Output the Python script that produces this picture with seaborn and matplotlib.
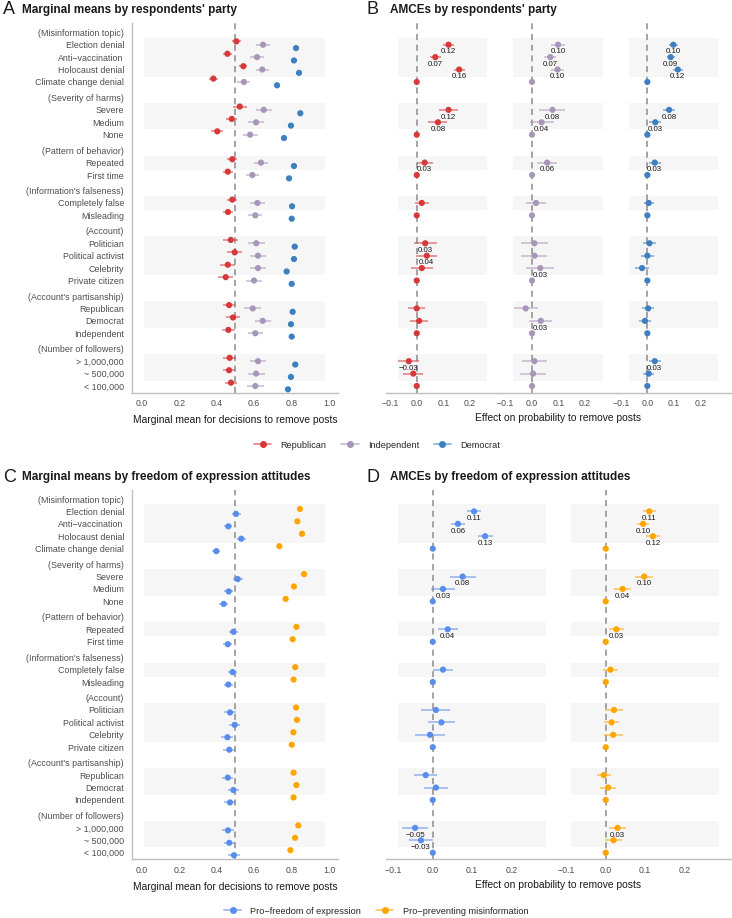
import matplotlib
matplotlib.use("Agg")
import matplotlib.pyplot as plt
from matplotlib.lines import Line2D
from matplotlib.colors import to_rgba
import pandas as pd
import seaborn as sns

sns.set_theme(style="white")
plt.rcParams['font.family'] = ['Liberation Sans', 'DejaVu Sans']

headers = ["(Misinformation topic)", "(Severity of harms)", "(Pattern of behavior)",
           "(Information's falseness)", "(Account)", "(Account's partisanship)",
           "(Number of followers)"]
levels = ["Election denial", "Anti\u2212vaccination", "Holocaust denial", "Climate change denial",
          "Severe", "Medium", "None",
          "Repeated", "First time",
          "Completely false", "Misleading",
          "Politician", "Political activist", "Celebrity", "Private citizen",
          "Republican", "Democrat", "Independent",
          "> 1,000,000", "~ 500,000", "< 100,000"]
group_sizes = [4, 3, 2, 2, 4, 3, 3]

# marginal means by party
mm_rep = [0.505, 0.457, 0.542, 0.382, 0.523, 0.48, 0.403, 0.483, 0.459, 0.483, 0.46,
          0.475, 0.496, 0.459, 0.448, 0.466, 0.487, 0.462, 0.469, 0.466, 0.476]
mm_rep_ci = [0.025, 0.022, 0.022, 0.024, 0.036, 0.03, 0.033, 0.027, 0.027, 0.027, 0.027,
             0.04, 0.04, 0.04, 0.04, 0.034, 0.035, 0.034, 0.033, 0.034, 0.033]
mm_ind = [0.647, 0.615, 0.643, 0.545, 0.651, 0.61, 0.578, 0.636, 0.59, 0.617, 0.606,
          0.611, 0.62, 0.62, 0.599, 0.592, 0.645, 0.606, 0.62, 0.61, 0.606]
mm_ind_ci = [0.035, 0.035, 0.035, 0.035, 0.044, 0.044, 0.04, 0.039, 0.036, 0.038, 0.038,
             0.045, 0.045, 0.045, 0.045, 0.044, 0.042, 0.04, 0.045, 0.045, 0.045]
mm_dem = [0.823, 0.812, 0.839, 0.722, 0.846, 0.796, 0.759, 0.812, 0.786, 0.802, 0.8,
          0.816, 0.812, 0.773, 0.8, 0.805, 0.796, 0.8, 0.819, 0.796, 0.78]
mm_dem_ci = [0.015] * 21

# AMCEs by party
am_rep = [0.12, 0.07, 0.16, 0, 0.12, 0.08, 0, 0.03, 0, 0.019, 0,
          0.032, 0.038, 0.019, 0, 0.0, 0.009, 0, -0.03, -0.013, 0]
am_rep_ci = [0.02, 0.02, 0.021, 0, 0.036, 0.036, 0, 0.03, 0, 0.027, 0,
             0.043, 0.04, 0.041, 0, 0.033, 0.035, 0, 0.039, 0.038, 0]
am_ind = [0.098, 0.069, 0.096, 0, 0.077, 0.036, 0, 0.057, 0, 0.015, 0,
          0.009, 0.009, 0.031, 0, -0.024, 0.033, 0, 0.009, 0.004, 0]
am_ind_ci = [0.028, 0.023, 0.026, 0, 0.049, 0.045, 0, 0.039, 0, 0.036, 0,
             0.051, 0.049, 0.052, 0, 0.045, 0.044, 0, 0.048, 0.049, 0]
am_dem = [0.098, 0.088, 0.115, 0, 0.082, 0.03, 0, 0.028, 0, 0.005, 0,
          0.008, 0.0, -0.02, 0, 0.003, -0.009, 0, 0.028, 0.005, 0]
am_dem_ci = [0.016, 0.015, 0.02, 0, 0.023, 0.023, 0, 0.023, 0, 0.019, 0,
             0.025, 0.025, 0.026, 0, 0.023, 0.021, 0, 0.023, 0.021, 0]
lab_rep = ["0.12", "0.07", "0.16", "", "0.12", "0.08", "", "0.03", "", "", "",
           "0.03", "0.04", "", "", "", "", "", "\u22120.03", "", ""]
lab_ind = ["0.10", "0.07", "0.10", "", "0.08", "0.04", "", "0.06", "", "", "",
           "", "", "0.03", "", "", "0.03", "", "", "", ""]
lab_dem = ["0.10", "0.09", "0.12", "", "0.08", "0.03", "", "0.03", "", "", "",
           "", "", "", "", "", "", "", "0.03", "", ""]

# marginal means by freedom of expression attitudes
mm_free = [0.503, 0.462, 0.531, 0.398, 0.512, 0.464, 0.437, 0.489, 0.459, 0.485, 0.462,
           0.471, 0.496, 0.457, 0.467, 0.459, 0.489, 0.471, 0.46, 0.467, 0.492]
mm_free_ci = [0.024, 0.022, 0.024, 0.022, 0.027, 0.025, 0.024, 0.025, 0.024, 0.025, 0.024,
              0.032, 0.03, 0.032, 0.031, 0.03, 0.028, 0.03, 0.03, 0.03, 0.03]
mm_prev = [0.844, 0.83, 0.855, 0.734, 0.866, 0.812, 0.768, 0.825, 0.805, 0.819, 0.81,
           0.823, 0.828, 0.809, 0.8, 0.81, 0.825, 0.81, 0.835, 0.818, 0.793]
mm_prev_ci = [0.012] * 21

# AMCEs by freedom of expression attitudes
am_free = [0.105, 0.064, 0.133, 0, 0.076, 0.026, 0, 0.038, 0, 0.026, 0,
           0.008, 0.022, -0.007, 0, -0.018, 0.008, 0, -0.045, -0.03, 0]
am_free_ci = [0.017, 0.017, 0.019, 0, 0.033, 0.031, 0, 0.025, 0, 0.026, 0,
              0.037, 0.034, 0.037, 0, 0.03, 0.03, 0, 0.033, 0.031, 0]
am_prev = [0.111, 0.095, 0.12, 0, 0.098, 0.043, 0, 0.027, 0, 0.012, 0,
           0.021, 0.015, 0.019, 0, -0.005, 0.006, 0, 0.03, 0.02, 0]
am_prev_ci = [0.017, 0.015, 0.017, 0, 0.023, 0.022, 0, 0.019, 0, 0.018, 0,
              0.023, 0.02, 0.024, 0, 0.018, 0.02, 0, 0.021, 0.022, 0]
lab_free = ["0.11", "0.06", "0.13", "", "0.08", "0.03", "", "0.04", "", "", "",
            "", "", "", "", "", "", "", "\u22120.05", "\u22120.03", ""]
lab_prev = ["0.11", "0.10", "0.12", "", "0.10", "0.04", "", "0.03", "", "", "",
            "", "", "", "", "", "", "", "0.03", "", ""]

c_rep, c_ind, c_dem = "#D7393B", "#A896B8", "#3D7FBF"
c_free, c_prev = "#5A8DEB", "#FFA500"
grey_txt = "#4D4D4D"
spine_c = "#BEBEBE"
band_c = "#F6F6F6"

# row layout: header, its levels, then a slightly larger gap before the next header
head_y, lev_y, bands = [], [], []
pos = 0.0
for gi, n in enumerate(group_sizes):
    if gi > 0:
        pos += 1.25
    head_y.append(pos)
    for k in range(n):
        pos += 1
        lev_y.append(pos)
    bands.append((lev_y[-n] - 0.57, lev_y[-2] + 0.57))
ylim = (lev_y[-1] + 0.54, -0.75)

W, H = 732, 918
fig = plt.figure(figsize=(W / 100, H / 100), dpi=100)


def box(x0, x1, y0, y1):
    return [x0 / W, 1 - y1 / H, (x1 - x0) / W, (y1 - y0) / H]


def style_ax(ax, xlim, ticks, ticklabels, band_x):
    ax.set_xlim(*xlim)
    ax.set_ylim(*ylim)
    ax.set_facecolor("none")
    x0, x1 = band_x
    for b0, b1 in bands:
        ax.fill_between([x0, x1], b0, b1, color=band_c, lw=0, zorder=0)
    ax.set_xticks(ticks)
    ax.set_xticklabels(ticklabels)
    ax.tick_params(axis="x", length=0, pad=4.5, labelsize=6.3, labelcolor=grey_txt)
    ax.tick_params(axis="y", length=0)
    for s in ["top", "right"]:
        ax.spines[s].set_visible(False)
    ax.spines["bottom"].set_color(spine_c)
    ax.spines["bottom"].set_linewidth(1.0)
    ax.grid(False)


def draw(ax, x, ci, offset, color, labels=None):
    df = pd.DataFrame({"x": x, "ci": ci, "y": [v + offset for v in lev_y]})
    ax.hlines(df["y"], df["x"] - df["ci"], df["x"] + df["ci"], color=color,
              alpha=0.55, lw=1.3, zorder=3)
    sns.scatterplot(data=df, x="x", y="y", color=color, s=20, edgecolor="none",
                    ax=ax, zorder=4, legend=False)
    if labels is not None:
        for xv, yv, t in zip(df["x"], df["y"], labels):
            if t:
                ax.text(xv, yv + 0.58, t, ha="center", va="center", fontsize=5.7,
                        color="#1A1A1A", zorder=5)
    ax.set_xlabel("")
    ax.set_ylabel("")


def mm_panel(y0, y1, series, xlabel):
    ax = fig.add_axes(box(132, 338, y0, y1))
    style_ax(ax, (-0.052, 1.047), [0, 0.2, 0.4, 0.6, 0.8, 1.0],
             ["0.0", "0.2", "0.4", "0.6", "0.8", "1.0"], (0.012, 0.98))
    ax.axvline(0.5, color="#8C8C8C", ls=(0, (4, 3)), lw=1.1, zorder=2)
    for x, ci, off, col in series:
        draw(ax, x, ci, off, col)
    ax.spines["left"].set_color(spine_c)
    ax.spines["left"].set_linewidth(1.0)
    ax.set_yticks(head_y + lev_y)
    ax.set_yticklabels(headers + levels)
    ax.tick_params(axis="y", labelsize=6.4, labelcolor=grey_txt, pad=5.8)
    ax.set_xlabel(xlabel, fontsize=7.4, color="#1A1A1A", labelpad=5)
    return ax


def amce_panel(y0, y1, series, xlim, band_x):
    n = len(series)
    x_left, x_right = 386, 731.9
    w = (x_right - x_left) / n
    for i, (x, ci, col, labs) in enumerate(series):
        ax = fig.add_axes(box(x_left + i * w, x_left + (i + 1) * w, y0, y1))
        style_ax(ax, xlim, [-0.1, 0.0, 0.1, 0.2],
                 ["\u22120.1", "0.0", "0.1", "0.2"], band_x)
        ax.axvline(0, color="#8C8C8C", ls=(0, (4, 3)), lw=1.1, zorder=2)
        draw(ax, x, ci, 0, col, labs)
        ax.spines["left"].set_visible(False)
        ax.set_yticks([])


# top row
mm_panel(23, 392.7, [(mm_rep, mm_rep_ci, -0.27, c_rep),
                     (mm_ind, mm_ind_ci, 0.0, c_ind),
                     (mm_dem, mm_dem_ci, 0.27, c_dem)],
         "Marginal mean for decisions to remove posts")
amce_panel(23, 392.7, [(am_rep, am_rep_ci, c_rep, lab_rep),
                       (am_ind, am_ind_ci, c_ind, lab_ind),
                       (am_dem, am_dem_ci, c_dem, lab_dem)],
           (-0.116, 0.319), (-0.07, 0.266))
fig.text(558.5 / W, 1 - 418 / H, "Effect on probability to remove posts",
         ha="center", va="center", fontsize=7.4, color="#1A1A1A")

# bottom row
mm_panel(489.7, 859.4, [(mm_free, mm_free_ci, 0.2, c_free),
                        (mm_prev, mm_prev_ci, -0.2, c_prev)],
         "Marginal mean for decisions to remove posts")
amce_panel(489.7, 859.4, [(am_free, am_free_ci, c_free, lab_free),
                          (am_prev, am_prev_ci, c_prev, lab_prev)],
           (-0.119, 0.321), (-0.088, 0.289))
fig.text(558.5 / W, 1 - 884.5 / H, "Effect on probability to remove posts",
         ha="center", va="center", fontsize=7.4, color="#1A1A1A")

# panel titles
for letter, title, lx, tx, ty in [("A", "Marginal means by respondents' party", 3, 21.5, 10),
                                  ("B", "AMCEs by respondents' party", 366, 390, 10),
                                  ("C", "Marginal means by freedom of expression attitudes", 3, 21.5, 477),
                                  ("D", "AMCEs by freedom of expression attitudes", 366, 390, 477)]:
    fig.text(lx / W, 1 - ty / H, letter, ha="left", va="center", fontsize=13, color="#1A1A1A")
    fig.text(tx / W, 1 - ty / H, title, ha="left", va="center", fontsize=8.5,
             fontweight="bold", color="#1A1A1A")


def handle(col):
    return Line2D([0], [0], color=to_rgba(col, 0.6), lw=1.3, marker="o", markersize=4,
                  markerfacecolor=col, markeredgecolor=col)


leg_kw = dict(frameon=False, fontsize=6.6, handlelength=1.9, handletextpad=1.0,
              columnspacing=1.6, loc="center")
fig.legend([handle(c_rep), handle(c_ind), handle(c_dem)],
           ["Republican", "Independent", "Democrat"], ncol=3,
           bbox_to_anchor=(377 / W, 1 - 445 / H), **leg_kw)
fig.legend([handle(c_free), handle(c_prev)],
           ["Pro\u2212freedom of expression", "Pro\u2212preventing misinformation"], ncol=2,
           bbox_to_anchor=(376 / W, 1 - 911 / H), **leg_kw)

plt.savefig("out.png", dpi=100)
plt.close()
